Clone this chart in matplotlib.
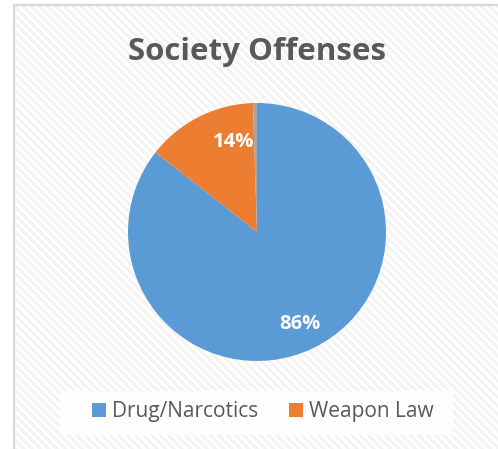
import matplotlib
matplotlib.use("Agg")
import matplotlib.pyplot as plt
from matplotlib.patches import Rectangle
import numpy as np

categories = ["Drug/Narcotics", "Weapon Law", "Other"]
values = [85.6, 13.9, 0.5]
colors = ["#5B9BD5", "#ED7D31", "#A5A5A5"]
legend_items = ["Drug/Narcotics", "Weapon Law"]
title = "Society Offenses"

W, H = 498, 449
fig = plt.figure(figsize=(W / 100, H / 100), dpi=100)
fig.patch.set_facecolor("white")

plt.rcParams["hatch.linewidth"] = 2.2

# chart area background with diagonal texture
x0, y0 = 14 / W, -0.05
top = (H - 5) / H
bg = Rectangle((x0, y0), 1.2, top - y0, transform=fig.transFigure,
               facecolor="white", edgecolor="#f3f3f3", hatch="\\\\\\\\",
               linewidth=0, zorder=-3)
fig.patches.append(bg)
border = Rectangle((x0, y0), 1.2, top - y0, transform=fig.transFigure,
                   facecolor="none", edgecolor="#d9d9d9", linewidth=1.6,
                   zorder=-2)
fig.patches.append(border)

# legend box
lb = Rectangle((60 / W, 1 - 435 / H), (453 - 60) / W, 44 / H,
               transform=fig.transFigure, facecolor="white",
               edgecolor="none", zorder=-1, alpha=0.85)
fig.patches.append(lb)

# pie axes
cx, cy, r = 257, 232, 129
ax = fig.add_axes([(cx - r) / W, (H - cy - r) / H, 2 * r / W, 2 * r / H])
ax.set_zorder(2)
ax.patch.set_visible(False)
wedges, _ = ax.pie(values, colors=colors, startangle=90, counterclock=False,
                   radius=1.0, wedgeprops=dict(linewidth=0))
ax.set_xlim(-1, 1)
ax.set_ylim(-1, 1)
ax.set_aspect("equal")
ax.axis("off")

total = sum(values)
# label placement (angle in degrees, distance in radius units)
label_pos = [(-65.0, 0.79), (104.9, 0.72)]
for i, (ang, d) in enumerate(label_pos):
    pct = values[i] / total * 100
    ax.text(d * np.cos(np.radians(ang)), d * np.sin(np.radians(ang)),
            f"{pct:.0f}%", ha="center", va="center", color="white",
            fontsize=14.5, fontweight="bold", family="Open Sans")

fig.text(257 / W, 1 - 52 / H, title, ha="center", va="center",
         fontsize=22.5, fontweight="bold", color="#595959", family="Open Sans")

handles = [Rectangle((0, 0), 1, 1, facecolor=c, edgecolor="none")
           for c in colors[:2]]
leg = fig.legend(handles, legend_items, loc="center",
                 bbox_to_anchor=(263 / W, 1 - 412 / H), ncol=2, frameon=False,
                 prop={"family": "Open Sans", "size": 15},
                 handlelength=0.65, handleheight=0.65, handletextpad=0.3,
                 columnspacing=1.5, labelcolor="#595959")

fig.savefig("out.png", dpi=100, facecolor="white")
